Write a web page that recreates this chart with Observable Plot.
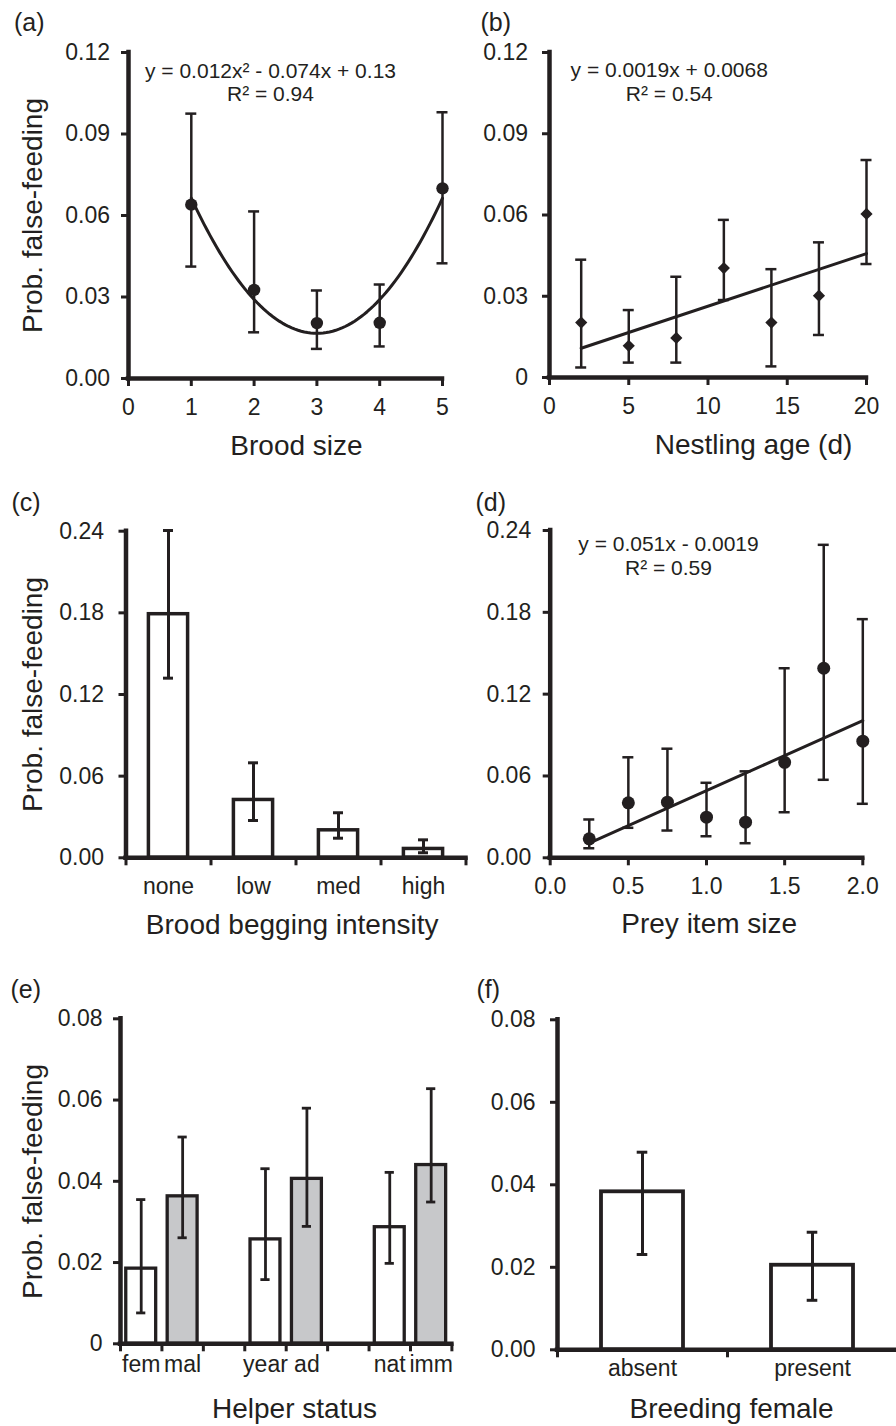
<!DOCTYPE html>
<html>
<head>
<meta charset="utf-8">
<title>Probability of false-feeding</title>
<script src="https://cdn.jsdelivr.net/npm/d3@7"></script>
<script src="https://cdn.jsdelivr.net/npm/@observablehq/plot@0.6"></script>
<style>
html, body { margin: 0; padding: 0; background: #fff; overflow: hidden; }
#fig { position: relative; width: 896px; height: 1426px; overflow: hidden; background: #fff;
       font-family: 'Liberation Sans', Arial, Helvetica, sans-serif; color: #231f20; }
</style>
</head>
<body>
<div id="fig"></div>
<script>
// ---------------- DATA ----------------
// (a) Brood size
const broodSize = [1, 2, 3, 4, 5];
const broodMean = [0.064, 0.0326, 0.0204, 0.0205, 0.070];
const broodLow  = [0.0412, 0.0170, 0.0109, 0.0118, 0.0424];
const broodHigh = [0.0975, 0.0615, 0.0324, 0.0346, 0.0980];
const aXTicks = [0, 1, 2, 3, 4, 5];
const aXLabels = ["0", "1", "2", "3", "4", "5"];
const aYTicks = [0, 0.03, 0.06, 0.09, 0.12];
const aYLabels = ["0.00", "0.03", "0.06", "0.09", "0.12"];
const aEquation = ["y = 0.012x² - 0.074x + 0.13", "R² = 0.94"];

// (b) Nestling age
const nestAge  = [2, 5, 8, 11, 14, 17, 20];
const nestMean = [0.0203, 0.0117, 0.0146, 0.0404, 0.0203, 0.0302, 0.0604];
const nestLow  = [0.0037, 0.0055, 0.0055, 0.0286, 0.0041, 0.0157, 0.0419];
const nestHigh = [0.0435, 0.0249, 0.0372, 0.0582, 0.0400, 0.0499, 0.0803];
const bXTicks = [0, 5, 10, 15, 20];
const bXLabels = ["0", "5", "10", "15", "20"];
const bYTicks = [0, 0.03, 0.06, 0.09, 0.12];
const bYLabels = ["0", "0.03", "0.06", "0.09", "0.12"];
const bEquation = ["y = 0.0019x + 0.0068", "R² = 0.54"];

// (c) Brood begging intensity
const beggingLevels = ["none", "low", "med", "high"];
const beggingMean = [0.179, 0.0425, 0.0202, 0.0065];
const beggingLow  = [0.132, 0.0274, 0.0144, 0.0037];
const beggingHigh = [0.2405, 0.0698, 0.0331, 0.0132];
const cYTicks = [0, 0.06, 0.12, 0.18, 0.24];
const cYLabels = ["0.00", "0.06", "0.12", "0.18", "0.24"];

// (d) Prey item size
const preySize = [0.25, 0.5, 0.75, 1.0, 1.25, 1.5, 1.75, 2.0];
const preyMean = [0.0139, 0.0403, 0.0408, 0.0298, 0.0261, 0.070, 0.139, 0.0855];
const preyLow  = [0.0070, 0.0220, 0.0200, 0.0158, 0.0107, 0.0334, 0.0572, 0.0396];
const preyHigh = [0.0281, 0.0737, 0.0800, 0.0550, 0.0634, 0.1390, 0.2295, 0.1750];
const dXTicks = [0, 0.5, 1.0, 1.5, 2.0];
const dXLabels = ["0.0", "0.5", "1.0", "1.5", "2.0"];
const dYTicks = [0, 0.06, 0.12, 0.18, 0.24];
const dYLabels = ["0.00", "0.06", "0.12", "0.18", "0.24"];
const dEquation = ["y = 0.051x - 0.0019", "R² = 0.59"];

// (e) Helper status (pairs: sex, age, origin)
const helperLabels = ["fem", "mal", "year", "ad", "nat", "imm"];
const helperMean = [0.0185, 0.0363, 0.0257, 0.0406, 0.0287, 0.0440];
const helperLow  = [0.0076, 0.0261, 0.0158, 0.0289, 0.0198, 0.0349];
const helperHigh = [0.0355, 0.0509, 0.0431, 0.0580, 0.0422, 0.0628];
const eYTicks = [0, 0.02, 0.04, 0.06, 0.08];
const eYLabels = ["0", "0.02", "0.04", "0.06", "0.08"];

// (f) Breeding female
const femaleStatus = ["absent", "present"];
const femaleMean = [0.0383, 0.0205];
const femaleLow  = [0.0231, 0.0120];
const femaleHigh = [0.0479, 0.0285];
const fYTicks = [0, 0.02, 0.04, 0.06, 0.08];
const fYLabels = ["0.00", "0.02", "0.04", "0.06", "0.08"];

const yTitle = "Prob. false-feeding";

// ---------------- STYLE ----------------
const INK = "#231f20";
const GREY = "#c7c8ca";
const FONT = "'Liberation Sans', Arial, Helvetica, sans-serif";
const TICK_FS = 23, TITLE_FS = 28, EQ_FS = 21, PANEL_FS = 25;

const fig = document.getElementById("fig");
function place(el, left, top) {
  el.style.position = "absolute";
  el.style.left = left + "px";
  el.style.top = top + "px";
  fig.appendChild(el);
}

// text placed at svg-local pixel position (x, baseline)
function label(str, x, baseline, m, opts = {}) {
  const fs = opts.fontSize || TICK_FS;
  return Plot.text([str], {
    frameAnchor: "top-left", text: d => d,
    dx: x - m.ml, dy: baseline - 0.32 * fs - m.mt,
    lineAnchor: "middle", textAnchor: "middle", fill: INK, ...opts, fontSize: fs
  });
}
function yTitleMark(m, centerY) {
  const fs = TITLE_FS;
  return Plot.text([yTitle], {
    frameAnchor: "top-left", text: d => d, rotate: -90,
    dx: 41 - 0.32 * fs - m.ml, dy: centerY - m.mt,
    textAnchor: "middle", lineAnchor: "middle", fontSize: fs, fill: INK
  });
}

function axes(c) {
  const [x0, x1] = c.xDomain, [y0, y1] = c.yDomain;
  return [
    Plot.ruleY(c.yTicks, {y: d => d, x1: () => x0, x2: () => x0, insetLeft: -7, stroke: INK, strokeWidth: 3}),
    Plot.text(c.yTicks, {y: d => d, x: () => x0, text: (d, i) => c.yLabels[i], textAnchor: "end",
      dx: c.yLabelDx, fontSize: TICK_FS, fill: INK}),
    Plot.ruleX(c.xTicks, {x: d => d, y1: () => y0, y2: () => y0, insetBottom: -8, stroke: INK, strokeWidth: 3}),
    Plot.text(c.xLabelPos, {x: d => d, y: () => y0, text: (d, i) => c.xLabels[i],
      dy: c.xLabelBase - 0.32 * TICK_FS, fontSize: TICK_FS, fill: INK}),
    Plot.ruleX([x0], {x: d => d, y1: () => y0, y2: () => y1, stroke: INK, strokeWidth: 4.5, strokeLinecap: "square"}),
    Plot.ruleY([y0], {y: d => d, x1: () => x0, x2: () => x1, stroke: INK, strokeWidth: 4.5, strokeLinecap: "square"})
  ];
}

function errorBars(data, xf, w, half) {
  return [
    Plot.ruleX(data, {x: xf, y1: "lo", y2: "hi", stroke: INK, strokeWidth: w}),
    Plot.ruleY(data, {y: "hi", x1: xf, x2: xf, insetLeft: -half, insetRight: -half, stroke: INK, strokeWidth: w}),
    Plot.ruleY(data, {y: "lo", x1: xf, x2: xf, insetLeft: -half, insetRight: -half, stroke: INK, strokeWidth: w})
  ];
}

function makePlot(c, marks) {
  return Plot.plot({
    width: c.w, height: c.h,
    marginLeft: c.m.ml, marginRight: c.m.mr, marginTop: c.m.mt, marginBottom: c.m.mb,
    x: {type: "linear", domain: c.xDomain, axis: null},
    y: {type: "linear", domain: c.yDomain, axis: null},
    style: {fontFamily: FONT, fontSize: TICK_FS + "px", color: INK, background: "transparent", overflow: "visible"},
    marks
  });
}

// quadratic least-squares fit (trend line of panel a)
function quadraticFit(xs, ys) {
  const s = k => d3.sum(xs, x => x ** k);
  const t = k => d3.sum(xs, (x, i) => ys[i] * x ** k);
  const M = [[s(4), s(3), s(2)], [s(3), s(2), s(1)], [s(2), s(1), s(0)]];
  const v = [t(2), t(1), t(0)];
  const det = m => m[0][0] * (m[1][1] * m[2][2] - m[1][2] * m[2][1])
                 - m[0][1] * (m[1][0] * m[2][2] - m[1][2] * m[2][0])
                 + m[0][2] * (m[1][0] * m[2][1] - m[1][1] * m[2][0]);
  const D = det(M);
  return [0, 1, 2].map(j => det(M.map((row, r) => row.map((val, k) => k === j ? v[r] : val))) / D);
}

// ---------------- (a) ----------------
{
  const data = broodSize.map((x, i) => ({x, y: broodMean[i], lo: broodLow[i], hi: broodHigh[i]}));
  const [qa, qb, qc] = quadraticFit(broodSize, broodMean);
  const [xa, xb] = d3.extent(broodSize);
  const fit = d3.range(0, 81).map(k => xa + (xb - xa) * k / 80).map(x => ({x, y: qa * x * x + qb * x + qc}));
  const c = {w: 448, h: 470, m: {ml: 128, mr: 6, mt: 52, mb: 92},
    xDomain: [0, 5], yDomain: [0, 0.12], yTicks: aYTicks, yLabels: aYLabels, yLabelDx: -18.5,
    xTicks: aXTicks, xLabelPos: aXTicks, xLabels: aXLabels, xLabelBase: 36};
  place(makePlot(c, [
    ...errorBars(data, "x", 2.5, 5.5),
    Plot.line(fit, {x: "x", y: "y", stroke: INK, strokeWidth: 3}),
    Plot.dot(data, {x: "x", y: "y", r: 6.2, fill: INK}),
    ...axes(c),
    label("(a)", 13.5, 30, c.m, {fontSize: PANEL_FS, textAnchor: "start"}),
    label(aEquation[0], 270, 77, c.m, {fontSize: EQ_FS}),
    label(aEquation[1], 270, 100, c.m, {fontSize: EQ_FS}),
    label("Brood size", 296, 454, c.m, {fontSize: TITLE_FS}),
    yTitleMark(c.m, 215)
  ]), 0, 0);
}

// ---------------- (b) ----------------
{
  const data = nestAge.map((x, i) => ({x, y: nestMean[i], lo: nestLow[i], hi: nestHigh[i]}));
  const c = {w: 448, h: 470, m: {ml: 101, mr: 30, mt: 52, mb: 93},
    xDomain: [0, 20], yDomain: [0, 0.12], yTicks: bYTicks, yLabels: bYLabels, yLabelDx: -21.5,
    xTicks: bXTicks, xLabelPos: bXTicks, xLabels: bXLabels, xLabelBase: 36};
  place(makePlot(c, [
    ...errorBars(data, "x", 2.5, 5.5),
    Plot.linearRegressionY(data, {x: "x", y: "y", ci: 0, stroke: INK, strokeWidth: 3}),
    Plot.dot(data, {x: "x", y: "y", r: 5.5, symbol: "diamond2", fill: INK}),
    ...axes(c),
    label("(b)", 32, 30, c.m, {fontSize: PANEL_FS, textAnchor: "start"}),
    label(bEquation[0], 220.7, 76, c.m, {fontSize: EQ_FS}),
    label(bEquation[1], 220.8, 100, c.m, {fontSize: EQ_FS}),
    label("Nestling age (d)", 305, 453, c.m, {fontSize: TITLE_FS})
  ]), 448, 0);
}

// ---------------- (c) ----------------
{
  const data = beggingLevels.map((k, i) => ({slot: i, y: beggingMean[i], lo: beggingLow[i], hi: beggingHigh[i]}));
  const n = beggingLevels.length;
  const bounds = d3.range(0, n + 1);
  const centers = d3.range(0, n).map(i => i + 0.5);
  const c = {w: 470, h: 490, m: {ml: 125.5, mr: 4.5, mt: 60.7, mb: 102.7},
    xDomain: [0, n], yDomain: [0, 0.24], yTicks: cYTicks, yLabels: cYLabels, yLabelDx: -22,
    xTicks: bounds, xLabelPos: centers, xLabels: beggingLevels, xLabelBase: 35.7};
  place(makePlot(c, [
    Plot.rect(data, {x1: d => d.slot, x2: d => d.slot + 1, y1: () => 0, y2: "y",
      insetLeft: 22.9, insetRight: 22.9, fill: "white", stroke: INK, strokeWidth: 3.5}),
    ...errorBars(data, d => d.slot + 0.5, 3, 5),
    ...axes(c),
    label("(c)", 11, 40, c.m, {fontSize: PANEL_FS, textAnchor: "start"}),
    label("Brood begging intensity", 291.7, 463, c.m, {fontSize: TITLE_FS}),
    yTitleMark(c.m, 224)
  ]), 0, 470);
}

// ---------------- (d) ----------------
{
  const data = preySize.map((x, i) => ({x, y: preyMean[i], lo: preyLow[i], hi: preyHigh[i]}));
  const c = {w: 448, h: 490, m: {ml: 101.7, mr: 33.7, mt: 60, mb: 102.7},
    xDomain: [0, 2], yDomain: [0, 0.24], yTicks: dYTicks, yLabels: dYLabels, yLabelDx: -19,
    xTicks: dXTicks, xLabelPos: dXTicks, xLabels: dXLabels, xLabelBase: 35.7};
  place(makePlot(c, [
    ...errorBars(data, "x", 2.5, 5.5),
    Plot.linearRegressionY(data, {x: "x", y: "y", ci: 0, stroke: INK, strokeWidth: 3}),
    Plot.dot(data, {x: "x", y: "y", r: 6.5, fill: INK}),
    ...axes(c),
    label("(d)", 27, 40.4, c.m, {fontSize: PANEL_FS, textAnchor: "start"}),
    label(dEquation[0], 220, 80, c.m, {fontSize: EQ_FS}),
    label(dEquation[1], 220, 104, c.m, {fontSize: EQ_FS}),
    label("Prey item size", 260.7, 462, c.m, {fontSize: TITLE_FS})
  ]), 448, 470);
}

// ---------------- (e) ----------------
{
  // pairs of bars with an empty slot between pairs
  const data = helperLabels.map((k, i) => ({slot: Math.floor(i / 2) * 3 + (i % 2), second: i % 2 === 1,
    y: helperMean[i], lo: helperLow[i], hi: helperHigh[i]}));
  const nSlots = Math.floor((helperLabels.length - 1) / 2) * 3 + 2;
  const bounds = d3.range(0, nSlots + 1);
  const c = {w: 456, h: 466, m: {ml: 120, mr: 4.6, mt: 58.3, mb: 82.7},
    xDomain: [0, nSlots], yDomain: [0, 0.08], yTicks: eYTicks, yLabels: eYLabels, yLabelDx: -18,
    xTicks: bounds, xLabelPos: data.map(d => d.slot + 0.5), xLabels: helperLabels, xLabelBase: 28.5};
  place(makePlot(c, [
    Plot.rect(data, {x1: d => d.slot, x2: d => d.slot + 1, y1: () => 0, y2: "y",
      insetLeft: 5.75, insetRight: 5.75, fill: d => d.second ? GREY : "white", stroke: INK, strokeWidth: 3.3}),
    ...errorBars(data, d => d.slot + 0.5, 2.8, 4.6),
    ...axes(c),
    label("(e)", 10, 37, c.m, {fontSize: PANEL_FS, textAnchor: "start"}),
    label("Helper status", 294, 457, c.m, {fontSize: TITLE_FS}),
    yTitleMark(c.m, 221)
  ]), 0, 960);
}

// ---------------- (f) ----------------
{
  const data = femaleStatus.map((k, i) => ({slot: i, y: femaleMean[i], lo: femaleLow[i], hi: femaleHigh[i]}));
  const n = femaleStatus.length;
  const c = {w: 452, h: 466, m: {ml: 109, mr: 3, mt: 59.3, mb: 76.7},
    xDomain: [0, n], yDomain: [0, 0.08], yTicks: fYTicks, yLabels: fYLabels, yLabelDx: -22,
    xTicks: d3.range(0, n + 1), xLabelPos: d3.range(0, n).map(i => i + 0.5), xLabels: femaleStatus, xLabelBase: 25.7};
  place(makePlot(c, [
    Plot.rect(data, {x1: d => d.slot, x2: d => d.slot + 1, y1: () => 0, y2: "y",
      insetLeft: 44, insetRight: 44, fill: "white", stroke: INK, strokeWidth: 3.8}),
    ...errorBars(data, d => d.slot + 0.5, 3, 5.3),
    ...axes(c),
    label("(f)", 28, 37, c.m, {fontSize: PANEL_FS, textAnchor: "start"}),
    label("Breeding female", 283, 457, c.m, {fontSize: TITLE_FS})
  ]), 448, 960);
}
</script>
</body>
</html>
